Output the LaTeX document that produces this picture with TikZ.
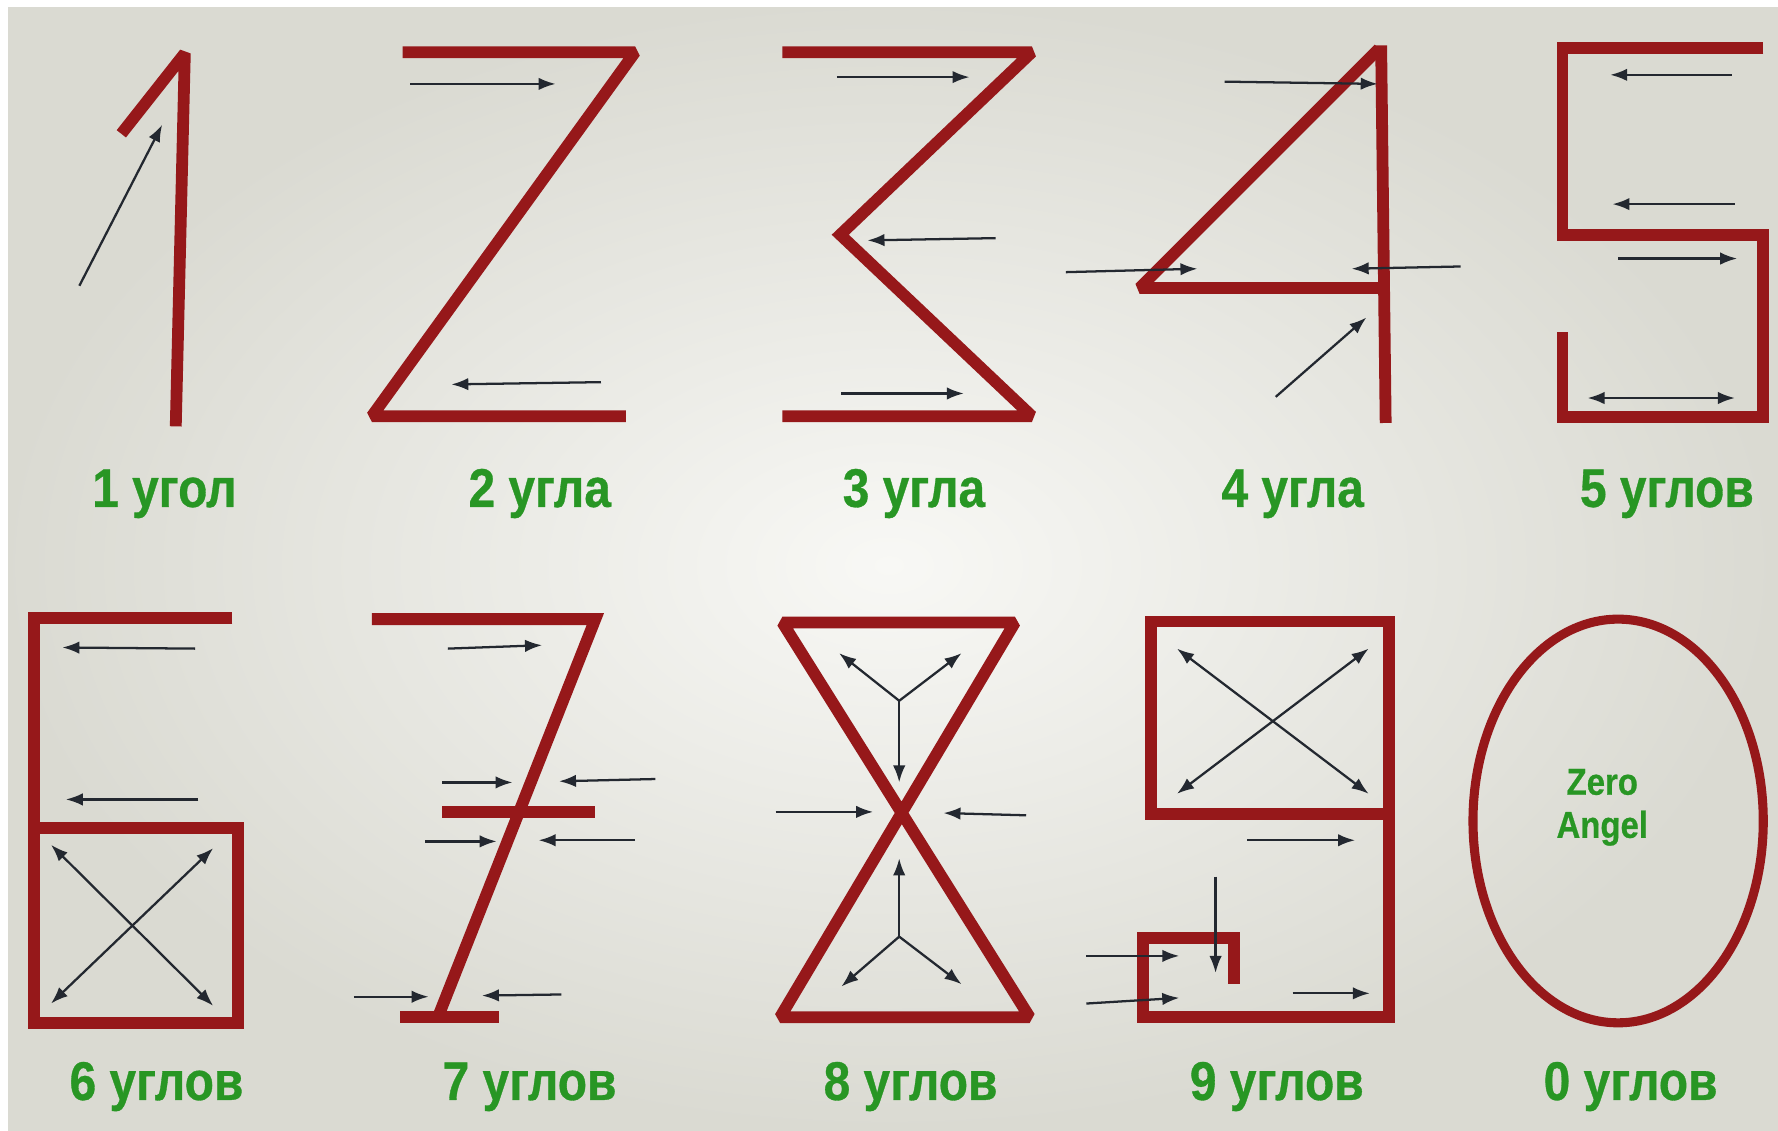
\documentclass[tikz,border=0pt]{standalone}
\usepackage{fontspec}
\setmainfont{Liberation Sans}
\newfontfamily\lab[FakeStretch=0.88, BoldFeatures={FakeBold=0.6}]{Liberation Sans}
\usetikzlibrary{arrows.meta}
\definecolor{dred}{RGB}{150,24,26}
\definecolor{arrc}{RGB}{35,40,48}
\definecolor{lgreen}{RGB}{40,150,36}
\definecolor{bgout}{RGB}{218,218,210}
\definecolor{bgin}{RGB}{248,248,245}
\tikzset{
  stroke/.style={line width=5.2pt, draw=dred, line join=miter, miter limit=2, line cap=butt},
  thin0/.style={line width=4pt, draw=dred},
  arr/.style={line width=1pt, draw=arrc, -{Latex[length=7.5pt,width=5.5pt]}},
  darr/.style={line width=1pt, draw=arrc, {Latex[length=7.5pt,width=5.5pt]}-{Latex[length=7.5pt,width=5.5pt]}},
  lbl/.style={font=\lab\bfseries\fontsize{24}{28}\selectfont, text=lgreen, anchor=base, inner sep=0pt},
  zlbl/.style={font=\lab\bfseries\fontsize{16.5}{21}\selectfont, text=lgreen, inner sep=0pt, align=center}
}
\begin{document}
\begin{tikzpicture}[x=0.5pt,y=-0.5pt]
\useasboundingbox (0,0) rectangle (1568,997);
\shade[inner color=bgin, outer color=bgout] (0,0) rectangle (1568,997);
\fill[white] (0,0) rectangle (1568,6);
\fill[white] (0,0) rectangle (7,997);

% ---- 1
\draw[stroke] (107,118) -- (163,47) -- (155,376);
\draw[arr] (70,252) -- (143,110);

% ---- 2
\draw[stroke] (355,46) -- (560,46) -- (328,367) -- (552,367);
\draw[arr] (362,74) -- (490,74);
\draw[arr] (530,337) -- (398,339);

% ---- 3
\draw[stroke] (690,46) -- (910,46) -- (741,207) -- (910,367) -- (690,367);
\draw[arr] (738,68) -- (855,68);
\draw[arr] (878,210) -- (765,212);
\draw[arr] (742,347) -- (850,347);

% ---- 4
\draw[stroke] (1218,40) -- (1222,373);
\draw[stroke] (1216,43) -- (1005,254) -- (1222,254);
\draw[arr] (1080,72) -- (1215,74);
\draw[arr] (940,240) -- (1056,237);
\draw[arr] (1288,235) -- (1192,237);
\draw[arr] (1125,350) -- (1205,280);

% ---- 5
\draw[stroke] (1555,42) -- (1378,42) -- (1378,207) -- (1555,207) -- (1555,368) -- (1378,368) -- (1378,293);
\draw[arr] (1527,66) -- (1420,66);
\draw[arr] (1530,180) -- (1422,180);
\draw[arr] (1427,228) -- (1532,228);
\draw[darr] (1400,351) -- (1530,351);

% ---- 6
\draw[stroke] (205,545) -- (30,545) -- (30,902) -- (210,902) -- (210,730) -- (30,730);
\draw[arr] (172,572) -- (55,571);
\draw[arr] (175,705) -- (58,705);
\draw[darr] (45,745) -- (188,887);
\draw[darr] (188,748) -- (45,885);

% ---- 7
\draw[stroke] (328,546) -- (525,546) -- (387,895);
\draw[stroke] (390,716) -- (525,716);
\draw[stroke] (353,897) -- (440,897);
\draw[arr] (395,572) -- (478,569);
\draw[arr] (390,690) -- (452,690);
\draw[arr] (578,687) -- (493,689);
\draw[arr] (375,742) -- (438,742);
\draw[arr] (560,741) -- (475,741);
\draw[arr] (312,879) -- (378,879);
\draw[arr] (495,877) -- (425,878);

% ---- 8
\draw[stroke] (690,549) -- (895,549) -- (688,897) -- (908,897) -- cycle;
\draw[arr] (684,716) -- (770,716);
\draw[arr] (905,719) -- (832,717);
\draw[arr] (793,618) -- (740,576);
\draw[arr] (793,618) -- (848,576);
\draw[arr] (793,618) -- (793,690);
\draw[arr] (793,826) -- (742,870);
\draw[arr] (793,826) -- (848,868);
\draw[arr] (793,826) -- (793,757);

% ---- 9
\draw[stroke] (1225,718) -- (1015,718) -- (1015,548) -- (1225,548) -- (1225,897) -- (1008,897) -- (1008,827) -- (1088,827) -- (1088,868);
\draw[darr] (1038,572) -- (1207,700);
\draw[darr] (1207,572) -- (1038,700);
\draw[arr] (1100,741) -- (1195,741);
\draw[arr] (1072,773) -- (1072,858);
\draw[arr] (958,843) -- (1040,843);
\draw[arr] (958,885) -- (1040,880);
\draw[arr] (1140,876) -- (1208,876);

% ---- 0
\draw[thin0] (1427,724) ellipse [x radius=128, y radius=178];
\node[zlbl] (zero) at (1413,712) {Zero\\[-2pt]Angel};

% ---- labels
\node[lbl] (l1) at (145,447) {1 угол};
\node[lbl] (l2) at (476,447) {2 угла};
\node[lbl] (l3) at (806,447) {3 угла};
\node[lbl] (l4) at (1140,447) {4 угла};
\node[lbl] (l5) at (1470,447) {5 углов};
\node[lbl] (l6) at (138,970) {6 углов};
\node[lbl] (l7) at (467,970) {7 углов};
\node[lbl] (l8) at (803,970) {8 углов};
\node[lbl] (l9) at (1126,970) {9 углов};
\node[lbl] (l0) at (1438,970) {0 углов};
\end{tikzpicture}
\end{document}
